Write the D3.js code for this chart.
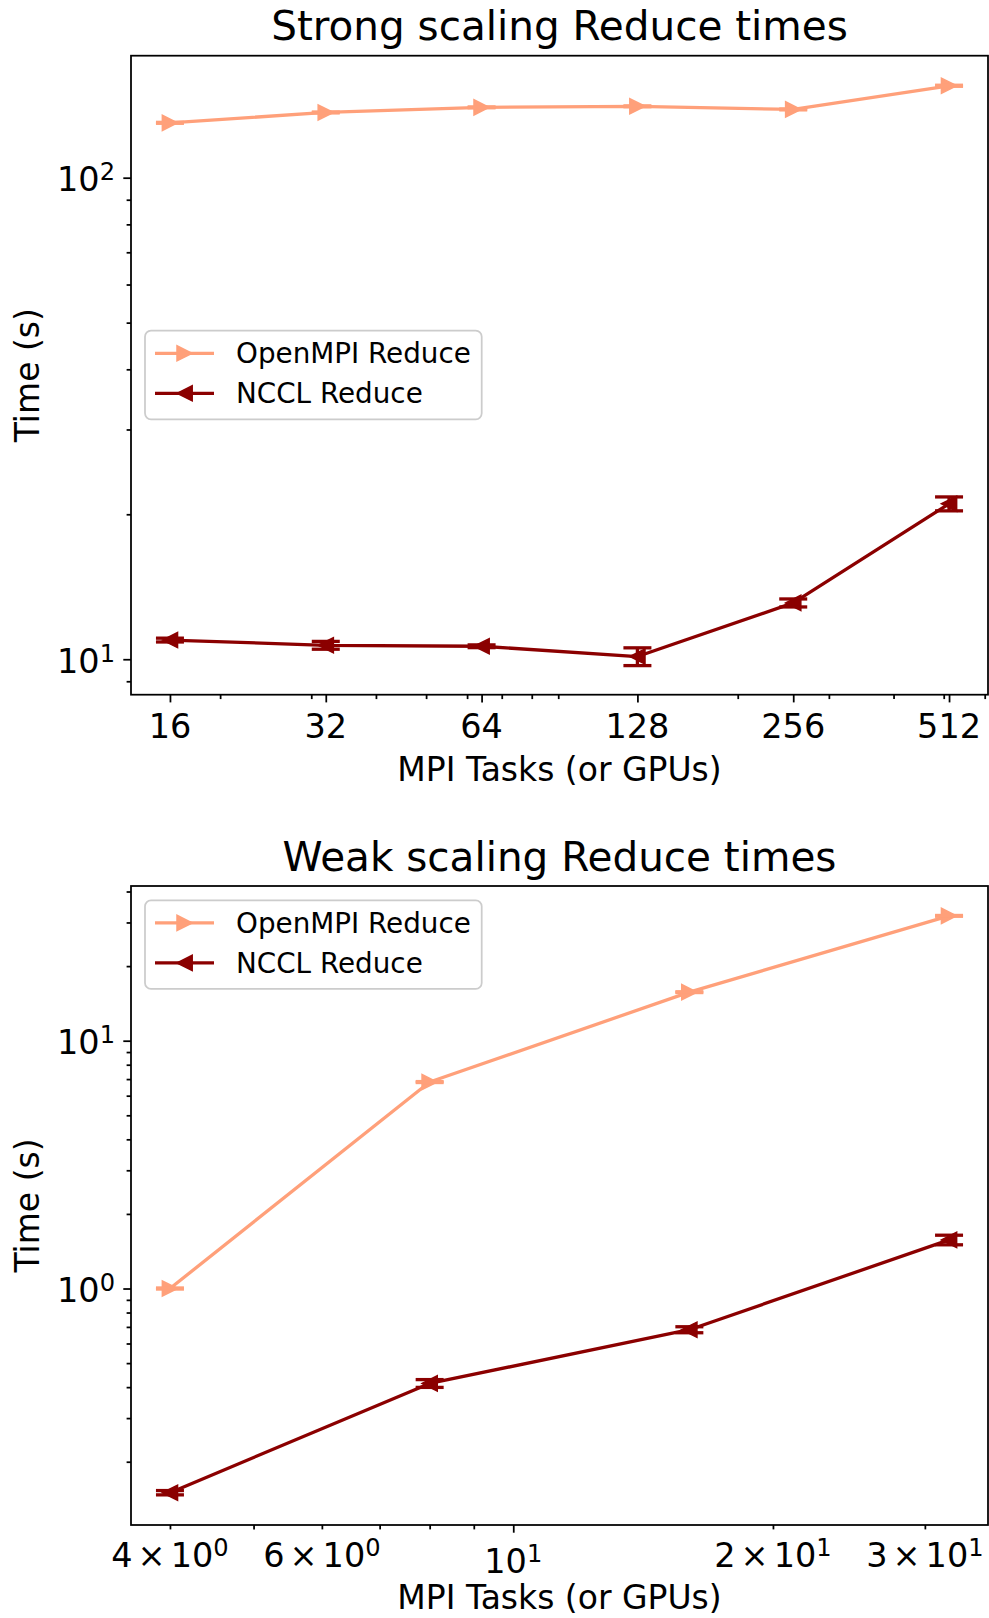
<!DOCTYPE html>
<html>
<head>
<meta charset="utf-8">
<script src="https://cdn.jsdelivr.net/npm/d3@7"></script>
<style>
  body { margin: 0; background: #fff; }
  text { font-family: "DejaVu Sans", sans-serif; fill: #000; }
</style>
</head>
<body>
<svg id="fig" width="989" height="1618"></svg>
<script>
// strong scaling data
const strongTasks = [16, 32, 64, 128, 256, 512];
const strongOpenMPI = [130.0, 136.6, 140.0, 140.7, 138.6, 155.2];
const strongOpenMPIErr = [0.3, 0.3, 0.3, 0.3, 0.3, 0.4];
const strongNCCL = [10.96, 10.69, 10.64, 10.13, 13.09, 21.03];
const strongNCCLErr = [0.1, 0.2, 0.07, 0.43, 0.25, 0.7];

// weak scaling data
const weakTasks = [4, 8, 16, 32];
const weakOpenMPI = [1.0, 6.81, 15.7, 31.9];
const weakOpenMPIErr = [0.005, 0.03, 0.06, 0.12];
const weakNCCL = [0.150, 0.414, 0.682, 1.571];
const weakNCCLErr = [0.003, 0.015, 0.019, 0.07];

// tick labels
const strongXTicks = [16, 32, 64, 128, 256, 512];
const strongYTicks = [10, 100];
const weakXTicks = [4, 6, 10, 20, 30];
const weakYTicks = [1, 10];

const seriesNames = ["OpenMPI Reduce", "NCCL Reduce"];
const seriesColors = ["#FFA07A", "#8B0000"];
const seriesDir = [1, -1]; // > and <

const svg = d3.select("#fig");
const axL = 131, axR = 988, axH = 639;
const tickFont = 33.5;

function triPath(dir) {
  const h = 7.6;
  return dir > 0
    ? `M${h},0L${-h},${-h}L${-h},${h}Z`
    : `M${-h},0L${h},${-h}L${h},${h}Z`;
}

// "10^k" or "m x 10^k"
function sciText(sel, v) {
  const k = Math.floor(Math.log10(v) + 1e-9);
  const m = Math.round(v / Math.pow(10, k));
  if (m !== 1) {
    sel.append("tspan").text(m);
    sel.append("tspan").attr("dx", 5).text("\u00d7");
    sel.append("tspan").attr("dx", 5).text("10");
  } else {
    sel.append("tspan").text("10");
  }
  sel.append("tspan").attr("font-size", tickFont * 0.72).attr("dy", -11).text(k);
}

function minorTicks(domain, major) {
  const out = [];
  for (let k = Math.floor(Math.log10(domain[0])); k <= Math.ceil(Math.log10(domain[1])); k++) {
    for (let m = 2; m <= 9; m++) {
      const v = m * Math.pow(10, k);
      if (v >= domain[0] && v <= domain[1] && !major.includes(v)) out.push(v);
    }
  }
  return out;
}

function drawPanel(p) {
  const top = p.top, bottom = p.top + axH;
  const g = svg.append("g");
  const x = d3.scaleLog().domain(p.xDomain).range([axL, axR]);
  const y = d3.scaleLog().domain(p.yDomain).range([bottom, top]);

  // title
  g.append("text").attr("x", (axL + axR) / 2).attr("y", top - 15.5)
    .attr("text-anchor", "middle").attr("font-size", 40.5).text(p.title);

  // ticks
  const xMajor = p.xMajor, xMinor = minorTicks(p.xDomain, xMajor.concat(p.xExtraMajor || []));
  const yMajor = p.yMajor, yMinor = minorTicks(p.yDomain, yMajor);

  const xa = g.append("g").attr("transform", `translate(0,${bottom})`);
  xa.call(d3.axisBottom(x).tickValues(xMinor).tickSize(4.4).tickFormat(""));
  xa.append("g").call(d3.axisBottom(x).tickValues(xMajor).tickSize(7.7).tickFormat(""));
  const ya = g.append("g").attr("transform", `translate(${axL},0)`);
  ya.call(d3.axisLeft(y).tickValues(yMinor).tickSize(4.4).tickFormat(""));
  ya.append("g").call(d3.axisLeft(y).tickValues(yMajor).tickSize(7.7).tickFormat(""));
  g.selectAll(".domain").remove();
  g.selectAll(".tick line").attr("stroke", "#000").attr("stroke-width", 1.76);

  // x tick labels
  p.xLabels.forEach(v => {
    const isMajor = xMajor.includes(v);
    const t = g.append("text").attr("x", x(v)).attr("text-anchor", "middle")
      .attr("font-size", tickFont);
    if (p.xSci) {
      t.attr("y", bottom + (isMajor ? 48 : 42));
      sciText(t, v);
    } else {
      t.attr("y", bottom + 43.3).text(v);
    }
  });
  // y tick labels
  yMajor.forEach(v => {
    const t = g.append("text").attr("x", 115).attr("y", y(v) + 13.5)
      .attr("text-anchor", "end").attr("font-size", tickFont);
    sciText(t, v);
  });

  // axis labels
  g.append("text").attr("x", (axL + axR) / 2).attr("y", bottom + p.xLabelOff)
    .attr("text-anchor", "middle").attr("font-size", 33).text("MPI Tasks (or GPUs)");
  g.append("text").attr("transform", `translate(39,${(top + bottom) / 2}) rotate(-90)`)
    .attr("text-anchor", "middle").attr("font-size", 33).text("Time (s)");

  // series
  p.series.forEach((s, si) => {
    const col = seriesColors[si];
    const line = d3.line().x((d, i) => x(p.xs[i])).y(d => y(d));
    g.append("path").datum(s.v).attr("d", line).attr("fill", "none")
      .attr("stroke", col).attr("stroke-width", 3.3).attr("stroke-linejoin", "round");
    s.v.forEach((v, i) => {
      const cx = x(p.xs[i]);
      g.append("path").attr("d", triPath(seriesDir[si]))
        .attr("transform", `translate(${cx},${y(v)})`)
        .attr("fill", col).attr("stroke", col).attr("stroke-width", 1.5);
    });
    s.v.forEach((v, i) => {
      const cx = x(p.xs[i]);
      const y0 = y(v - s.e[i]), y1 = y(v + s.e[i]);
      g.append("line").attr("x1", cx).attr("x2", cx).attr("y1", y0).attr("y2", y1)
        .attr("stroke", col).attr("stroke-width", 3.3);
      [y0, y1].forEach(yy => {
        g.append("line").attr("x1", cx - 14).attr("x2", cx + 14).attr("y1", yy).attr("y2", yy)
          .attr("stroke", col).attr("stroke-width", 3.3);
      });
    });
  });

  // spines
  g.append("rect").attr("x", axL).attr("y", top).attr("width", axR - axL).attr("height", axH)
    .attr("fill", "none").attr("stroke", "#000").attr("stroke-width", 1.76);

  // legend
  const lg = g.append("g");
  lg.append("rect").attr("x", 145).attr("y", p.legendTop).attr("width", 336.7).attr("height", 88.6)
    .attr("rx", 6).attr("fill", "#fff").attr("fill-opacity", 0.8)
    .attr("stroke", "#cccccc").attr("stroke-width", 1.76);
  seriesNames.forEach((name, i) => {
    const cy = p.legendTop + 22.6 + 40 * i;
    lg.append("line").attr("x1", 155).attr("x2", 214).attr("y1", cy).attr("y2", cy)
      .attr("stroke", seriesColors[i]).attr("stroke-width", 3.3);
    lg.append("path").attr("d", triPath(seriesDir[i]))
      .attr("transform", `translate(184.6,${cy})`)
      .attr("fill", seriesColors[i]).attr("stroke", seriesColors[i]).attr("stroke-width", 1.5);
    lg.append("text").attr("x", 236).attr("y", cy + 10).attr("font-size", 27.8).text(name);
  });
}

drawPanel({
  top: 55.7,
  title: "Strong scaling Reduce times",
  xDomain: [16 / Math.pow(2, 0.25), 512 * Math.pow(2, 0.25)],
  yDomain: [8.44, 179.2],
  xs: strongTasks,
  xMajor: strongXTicks,
  xExtraMajor: [100],
  xLabels: strongXTicks,
  xSci: false,
  yMajor: strongYTicks,
  xLabelOff: 86,
  legendTop: 330.7,
  series: [{ v: strongOpenMPI, e: strongOpenMPIErr }, { v: strongNCCL, e: strongNCCLErr }]
});

drawPanel({
  top: 886,
  title: "Weak scaling Reduce times",
  xDomain: [4 / Math.pow(2, 0.15), 32 * Math.pow(2, 0.15)],
  yDomain: [0.1111, 42.1],
  xs: weakTasks,
  xMajor: [10],
  xLabels: weakXTicks,
  xSci: true,
  yMajor: weakYTicks,
  xLabelOff: 84,
  legendTop: 900.3,
  series: [{ v: weakOpenMPI, e: weakOpenMPIErr }, { v: weakNCCL, e: weakNCCLErr }]
});
</script>
</body>
</html>
